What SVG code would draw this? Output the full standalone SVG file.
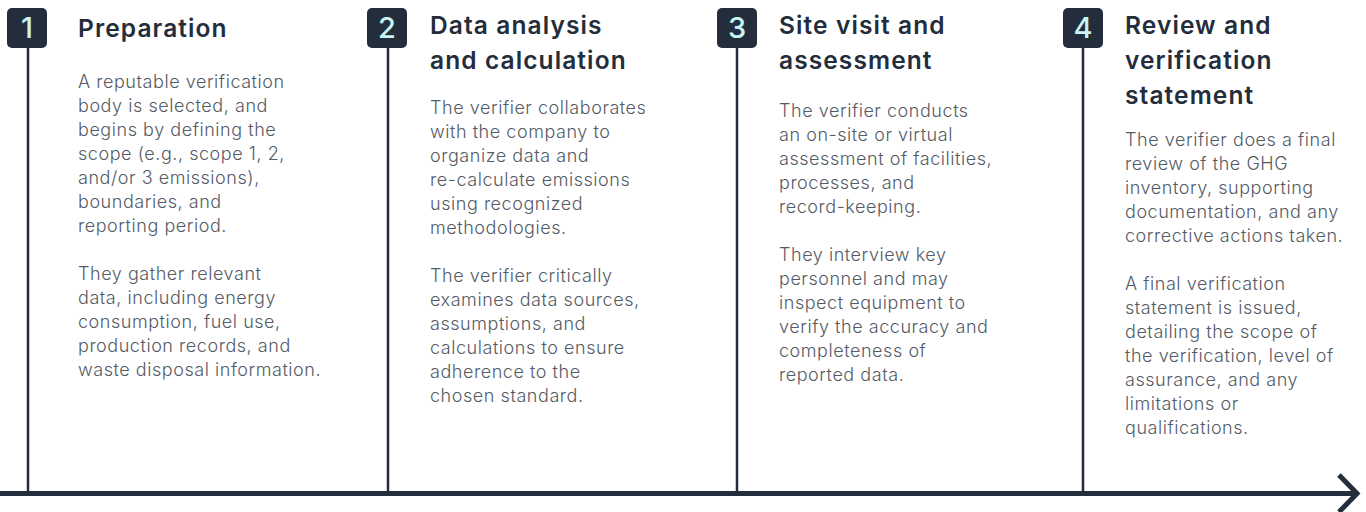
<svg xmlns="http://www.w3.org/2000/svg" width="1366" height="512" viewBox="0 0 1366 512">
<style>
.badge{fill:#232d3b}
.num{font-family:Inter,"Noto Sans",sans-serif;font-size:29px;font-weight:500;fill:#c8f4f6;text-anchor:middle}
.title{font-family:Inter,"Noto Sans",sans-serif;font-size:24.5px;font-weight:600;fill:#232d3b;letter-spacing:1.1px}
.body{font-family:Inter,"Noto Sans",sans-serif;font-size:18px;font-weight:300;fill:#545b66;letter-spacing:0.55px}
.vline{stroke:#232d3b;stroke-width:2.5}
</style>
<rect width="1366" height="512" fill="#ffffff"/>
<g id="connectors">
<line class="vline" x1="28" y1="48" x2="28" y2="492"/>
<line class="vline" x1="388" y1="48" x2="388" y2="492"/>
<line class="vline" x1="737" y1="48" x2="737" y2="492"/>
<line class="vline" x1="1083" y1="48" x2="1083" y2="492"/>
<line x1="0" y1="493.5" x2="1356" y2="493.5" stroke="#232d3b" stroke-width="5"/>
<polyline points="1339,475 1357,493.5 1339,512" fill="none" stroke="#232d3b" stroke-width="5"/>
</g>
<g id="step1">
<rect class="badge" x="7" y="8" width="40" height="40" rx="5"/>
<text class="num" x="27" y="38">1</text>
<text class="title" x="78" y="37">Preparation</text>
<text class="body" x="78"><tspan x="78" y="88">A reputable verification</tspan><tspan x="78" y="112">body is selected, and</tspan><tspan x="78" y="136">begins by defining the</tspan><tspan x="78" y="160">scope (e.g., scope 1, 2,</tspan><tspan x="78" y="184">and/or 3 emissions),</tspan><tspan x="78" y="208">boundaries, and</tspan><tspan x="78" y="232">reporting period.</tspan><tspan x="78" y="280">They gather relevant</tspan><tspan x="78" y="304">data, including energy</tspan><tspan x="78" y="328">consumption, fuel use,</tspan><tspan x="78" y="352">production records, and</tspan><tspan x="78" y="376">waste disposal information.</tspan></text>
</g>
<g id="step2">
<rect class="badge" x="367" y="8" width="40" height="40" rx="5"/>
<text class="num" x="387" y="38">2</text>
<text class="title"><tspan x="430" y="34">Data analysis</tspan><tspan x="430" y="69">and calculation</tspan></text>
<text class="body"><tspan x="430" y="114">The verifier collaborates</tspan><tspan x="430" y="138">with the company to</tspan><tspan x="430" y="162">organize data and</tspan><tspan x="430" y="186">re-calculate emissions</tspan><tspan x="430" y="210">using recognized</tspan><tspan x="430" y="234">methodologies.</tspan><tspan x="430" y="282">The verifier critically</tspan><tspan x="430" y="306">examines data sources,</tspan><tspan x="430" y="330">assumptions, and</tspan><tspan x="430" y="354">calculations to ensure</tspan><tspan x="430" y="378">adherence to the</tspan><tspan x="430" y="402">chosen standard.</tspan></text>
</g>
<g id="step3">
<rect class="badge" x="717" y="8" width="40" height="40" rx="5"/>
<text class="num" x="737" y="38">3</text>
<text class="title"><tspan x="779" y="34">Site visit and</tspan><tspan x="779" y="69">assessment</tspan></text>
<text class="body"><tspan x="779" y="117">The verifier conducts</tspan><tspan x="779" y="141">an on-site or virtual</tspan><tspan x="779" y="165">assessment of facilities,</tspan><tspan x="779" y="189">processes, and</tspan><tspan x="779" y="213">record-keeping.</tspan><tspan x="779" y="261">They interview key</tspan><tspan x="779" y="285">personnel and may</tspan><tspan x="779" y="309">inspect equipment to</tspan><tspan x="779" y="333">verify the accuracy and</tspan><tspan x="779" y="357">completeness of</tspan><tspan x="779" y="381">reported data.</tspan></text>
</g>
<g id="step4">
<rect class="badge" x="1063" y="8" width="40" height="40" rx="5"/>
<text class="num" x="1083" y="38">4</text>
<text class="title"><tspan x="1125" y="34">Review and</tspan><tspan x="1125" y="69">verification</tspan><tspan x="1125" y="104">statement</tspan></text>
<text class="body"><tspan x="1125" y="146">The verifier does a final</tspan><tspan x="1125" y="170">review of the GHG</tspan><tspan x="1125" y="194">inventory, supporting</tspan><tspan x="1125" y="218">documentation, and any</tspan><tspan x="1125" y="242">corrective actions taken.</tspan><tspan x="1125" y="290">A final verification</tspan><tspan x="1125" y="314">statement is issued,</tspan><tspan x="1125" y="338">detailing the scope of</tspan><tspan x="1125" y="362">the verification, level of</tspan><tspan x="1125" y="386">assurance, and any</tspan><tspan x="1125" y="410">limitations or</tspan><tspan x="1125" y="434">qualifications.</tspan></text>
</g>
</svg>
